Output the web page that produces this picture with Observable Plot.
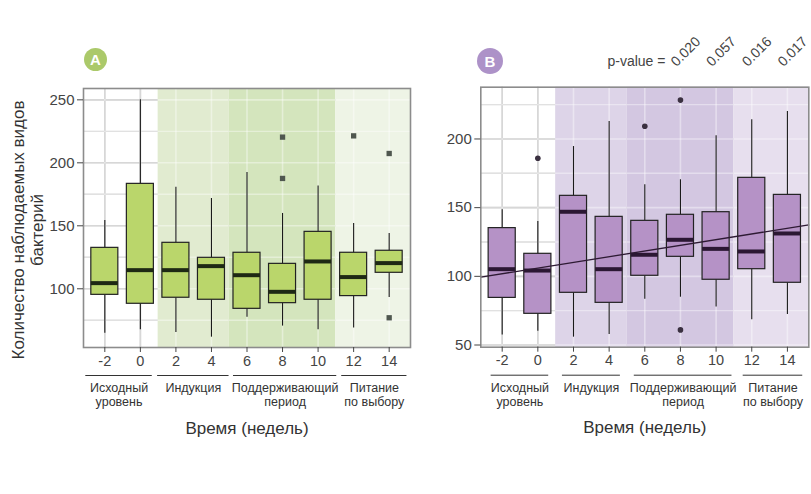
<!DOCTYPE html>
<html><head><meta charset="utf-8">
<script src="https://cdn.jsdelivr.net/npm/d3@7"></script>
<script src="https://cdn.jsdelivr.net/npm/@observablehq/plot@0.6"></script>
<style>
body{margin:0;background:#fff;font-family:"Liberation Sans",Arial,sans-serif;}
#root{position:relative;width:811px;height:494px;overflow:hidden;background:#fff;}
.badge{position:absolute;border-radius:50%;color:#fff;font-weight:bold;display:flex;align-items:center;justify-content:center;font-family:"Liberation Sans",Arial,sans-serif;}
.ytitle{position:absolute;left:28px;top:230px;transform:translate(-50%,-50%) rotate(-90deg);white-space:pre;text-align:center;font-size:17px;line-height:19px;color:#333;}
</style></head><body><div id="root"></div>
<script>
// ---------- data ----------
const weeks = [-2, 0, 2, 4, 6, 8, 10, 12, 14];
const xDomain = [-3.2, 15.2];

const phaseStart = [1, 5, 11];
const phaseEnd = [5, 11, 15.2];

const groupLabels = ["Исходный\nуровень", "Индукция", "Поддерживающий\nпериод", "Питание\nпо выбору"];
const xTitle = "Время (недель)";
const yTitle = "Количество наблюдаемых видов\nбактерий";

// Panel A
const aLow    = [64.8, 67.5, 65.3, 61.6, 77.5, 70.4, 67.5, 68.8, 93.1];
const aQ1     = [95.2, 88.1, 92.9, 91.3, 84.1, 88.6, 91.3, 94.2, 112.7];
const aMedian = [104.5, 114.8, 114.8, 118.0, 110.8, 97.6, 121.7, 109.3, 120.4];
const aQ3     = [132.5, 183.3, 136.5, 124.6, 128.6, 119.8, 145.2, 128.6, 130.2];
const aHigh   = [154.2, 250.0, 180.7, 171.7, 192.3, 159.8, 181.7, 151.9, 143.9];
const aOutWeek  = [8, 8, 12, 14, 14];
const aOutValue = [220.4, 187.6, 221.4, 207.4, 77.0];
const aTicks = [100, 150, 200, 250];
const aMinor = [75, 125, 175, 225];
const aGroupFrom = [-3.07, 0.97, 5.24, 11.33];
const aGroupTo   = [0.67, 4.99, 11.05, 15.0];

// Panel B
const bLow    = [57.2, 60.1, 55.7, 57.6, 83.4, 84.8, 77.6, 68.3, 72.2];
const bQ1     = [84.3, 72.7, 88.0, 80.7, 100.4, 114.2, 97.5, 105.2, 95.3];
const bMedian = [105.2, 104.2, 147.0, 105.2, 115.7, 126.6, 120.0, 118.1, 131.2];
const bQ3     = [135.1, 116.4, 158.6, 143.3, 140.4, 144.8, 146.7, 171.7, 159.3];
const bHigh   = [148.4, 139.9, 194.5, 212.7, 166.6, 170.3, 202.3, 214.0, 220.0];
const bOutWeek  = [0, 6, 8, 8];
const bOutValue = [186.0, 209.3, 228.3, 61.0];
const bTicks = [50, 100, 150, 200];
const bMinor = [75, 125, 175, 225];
const bGroupFrom = [-2.62, 1.38, 5.41, 11.52];
const bGroupTo   = [0.61, 4.63, 10.89, 14.86];
const trendIntercept = 106.0;
const trendSlope = 2.07;
const pWeeks = [8, 10, 12, 14];
const pValues = ["0.020", "0.057", "0.016", "0.017"];
const pLabel = "p-value =";

// ---------- drawing ----------
const root = document.getElementById("root");
const FONT = '"Liberation Sans", Arial, sans-serif';
const HW = 0.76;

function panel(cfg) {
  const boxes = weeks.map((w, i) => ({w, lo: cfg.lo[i], q1: cfg.q1[i], med: cfg.med[i], q3: cfg.q3[i], hi: cfg.hi[i]}));
  const outliers = cfg.outWeek.map((w, i) => ({w, v: cfg.outVal[i]}));
  const bands = phaseStart.map((s, i) => ({s, e: phaseEnd[i], fill: cfg.bandFill[i]}));
  const groups = groupLabels.map((g, i) => ({g, a: cfg.gFrom[i], b: cfg.gTo[i]}));
  const y0 = cfg.yDomain[0], y1 = cfg.yDomain[1];
  const marks = [
    Plot.ruleY(cfg.minor, {stroke: "#cdcdcd", strokeWidth: 1.4}),
    Plot.ruleY(cfg.ticks, {stroke: "#bdbdbd", strokeWidth: 1.6}),
    Plot.ruleX(weeks, {stroke: "#bdbdbd", strokeWidth: 1.6}),
    Plot.rect(bands, {x1: "s", x2: "e", y1: () => y0, y2: () => y1, fill: "fill"}),
    Plot.ruleY(cfg.minor, {stroke: "#fff", strokeOpacity: 0.4, strokeWidth: 1.4}),
    Plot.ruleY(cfg.ticks, {stroke: "#fff", strokeOpacity: 0.4, strokeWidth: 1.6}),
    Plot.ruleX(weeks, {stroke: "#fff", strokeOpacity: 0.4, strokeWidth: 1.6}),
    Plot.ruleX(boxes, {x: "w", y1: "lo", y2: "q1", stroke: "#1a1a1a", strokeWidth: 1.1}),
    Plot.ruleX(boxes, {x: "w", y1: "q3", y2: "hi", stroke: "#1a1a1a", strokeWidth: 1.1}),
    Plot.rect(boxes, {x1: d => d.w - HW, x2: d => d.w + HW, y1: "q1", y2: "q3", fill: cfg.boxFill, stroke: "#222", strokeWidth: 1.2}),
    Plot.ruleY(boxes, {y: "med", x1: d => d.w - HW, x2: d => d.w + HW, stroke: cfg.medColor, strokeWidth: 4}),
    Plot.dot(outliers, {x: "w", y: "v", symbol: cfg.symbol, r: cfg.r, fill: cfg.outFill, stroke: "none"})
  ];
  if (cfg.trend) {
    marks.push(Plot.line(xDomain.map(x => ({x, y: trendIntercept + trendSlope * x})), {x: "x", y: "y", stroke: "#2d1a33", strokeWidth: 1.3}));
  }
  marks.push(
    Plot.frame({stroke: "#8c8c8c", strokeWidth: 1.6}),
    Plot.axisY(cfg.ticks, {tickSize: 6, tickPadding: 3, fontSize: 15, color: "#444", label: null, tickFormat: d => String(d)}),
    Plot.axisX(weeks, {tickSize: 5, tickPadding: 3, fontSize: 14.5, color: "#444", label: null, tickFormat: d => String(d)}),
    Plot.ruleY(groups, {x1: "a", x2: "b", y: () => y0, dy: 28, stroke: "#333", strokeWidth: 1}),
    Plot.text(groups, {x: d => (d.a + d.b) / 2, text: "g", frameAnchor: "bottom", lineAnchor: "top", dy: 35, fontSize: 12.5, fill: "#333", lineHeight: 1.1}),
    Plot.text([xTitle], {text: d => d, frameAnchor: "bottom", lineAnchor: "top", dy: 74, fontSize: 17, fill: "#333"})
  );
  if (cfg.pvalues) {
    marks.push(
      Plot.text(pWeeks.map((w, i) => ({w, t: pValues[i]})), {x: "w", text: "t", frameAnchor: "top", rotate: -45, textAnchor: "start", lineAnchor: "bottom", dx: -4, dy: -20, fontSize: 14, fill: "#444"}),
      Plot.text([pLabel], {x: () => pWeeks[0], text: d => d, frameAnchor: "top", textAnchor: "end", lineAnchor: "bottom", dx: -15, dy: -21, fontSize: 14, fill: "#444"})
    );
  }
  const svg = Plot.plot({
    width: cfg.W, height: 494,
    marginLeft: cfg.mL, marginRight: cfg.mR, marginTop: cfg.mT, marginBottom: cfg.mB,
    x: {domain: xDomain, axis: null},
    y: {domain: cfg.yDomain, axis: null},
    color: {type: "identity"},
    style: {fontFamily: FONT, fontSize: "14px", background: "transparent", overflow: "visible"},
    marks
  });
  svg.style.position = "absolute";
  svg.style.left = cfg.left + "px";
  svg.style.top = "0px";
  return svg;
}

root.appendChild(panel({
  left: 0, W: 420, mL: 83, mR: 10, mT: 88, mB: 147,
  yDomain: [53.4, 259.0], ticks: aTicks, minor: aMinor,
  lo: aLow, q1: aQ1, med: aMedian, q3: aQ3, hi: aHigh,
  outWeek: aOutWeek, outVal: aOutValue,
  gFrom: aGroupFrom, gTo: aGroupTo,
  bandFill: ["#e1ebd0", "#d4e5bd", "#eef4e6"],
  boxFill: "#bad66b", medColor: "#1e2914",
  symbol: "square", r: 3, outFill: "#4f574f"
}));

root.appendChild(panel({
  left: 420, W: 391, mL: 60.3, mR: 2.7, mT: 86.7, mB: 147.3,
  yDomain: [48.4, 237.7], ticks: bTicks, minor: bMinor,
  lo: bLow, q1: bQ1, med: bMedian, q3: bQ3, hi: bHigh,
  outWeek: bOutWeek, outVal: bOutValue,
  gFrom: bGroupFrom, gTo: bGroupTo,
  bandFill: ["#ddd4e8", "#d3c7e1", "#e7dfee"],
  boxFill: "#b592c6", medColor: "#2b1733",
  symbol: "circle", r: 2.8, outFill: "#3a3040",
  trend: true, pvalues: true
}));

function badge(letter, cx, cy, r, color) {
  const d = document.createElement("div");
  d.className = "badge";
  d.textContent = letter;
  Object.assign(d.style, {left: (cx - r) + "px", top: (cy - r) + "px", width: 2 * r + "px", height: 2 * r + "px", background: color, fontSize: "15px"});
  root.appendChild(d);
}
badge("A", 95.5, 59.5, 11.5, "#abc96a");
badge("B", 490, 61, 13, "#ad92c8");

const yt = document.createElement("div");
yt.className = "ytitle";
yt.textContent = yTitle;
root.appendChild(yt);
</script>
</body></html>
